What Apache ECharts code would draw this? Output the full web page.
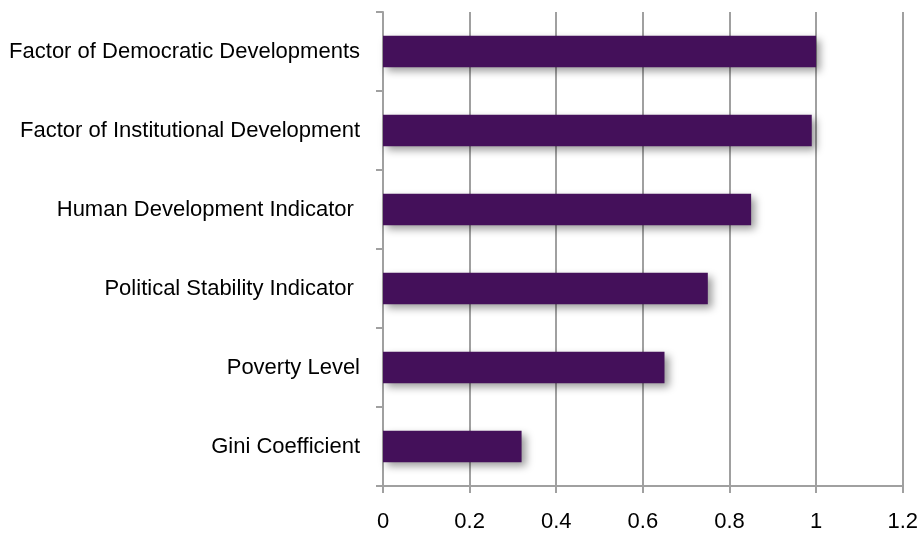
<!DOCTYPE html>
<html>
<head>
<meta charset="utf-8">
<script src="https://cdn.jsdelivr.net/npm/echarts@6/dist/echarts.min.js"></script>
<style>html,body{margin:0;padding:0;background:#fff;}#c{width:921px;height:534px;}</style>
</head>
<body>
<div id="c"></div>
<script>
const categories = [
  "Factor of Democratic Developments",
  "Factor of Institutional Development",
  "Human Development Indicator ",
  "Political Stability Indicator ",
  "Poverty Level",
  "Gini Coefficient"
];
const values = [1.0, 0.99, 0.85, 0.75, 0.65, 0.32];
const xTicks = { min: 0, max: 1.2, interval: 0.2 };

const chart = echarts.init(document.getElementById('c'), null, { renderer: 'canvas' });
const font = '"Liberation Sans", Arial, sans-serif';
chart.setOption({
  animation: false,
  grid: { left: 383, right: 17, top: 12, bottom: 48, containLabel: false },
  xAxis: {
    type: 'value',
    min: xTicks.min, max: xTicks.max, interval: xTicks.interval,
    axisLine: { show: true, lineStyle: { color: '#a0a0a0', width: 2 } },
    axisTick: { show: true, length: 7, lineStyle: { color: '#a0a0a0', width: 2 } },
    splitLine: { show: true, lineStyle: { color: '#a0a0a0', width: 2 } },
    axisLabel: {
      margin: 25, color: '#000', fontFamily: font, fontSize: 22,
      formatter: v => String(Math.round(v * 10) / 10)
    }
  },
  yAxis: {
    type: 'category',
    inverse: true,
    data: categories,
    axisLine: { show: true, lineStyle: { color: '#a0a0a0', width: 2 } },
    axisTick: { show: true, length: 7, lineStyle: { color: '#a0a0a0', width: 2 } },
    axisLabel: { margin: 23, color: '#000', fontFamily: font, fontSize: 22 }
  },
  series: [{
    type: 'bar',
    data: values,
    barWidth: '40%',
    itemStyle: {
      color: '#44105A',
      shadowColor: 'rgba(0,0,0,0.4)',
      shadowBlur: 8,
      shadowOffsetX: 4,
      shadowOffsetY: 4
    }
  }]
});
</script>
</body>
</html>
